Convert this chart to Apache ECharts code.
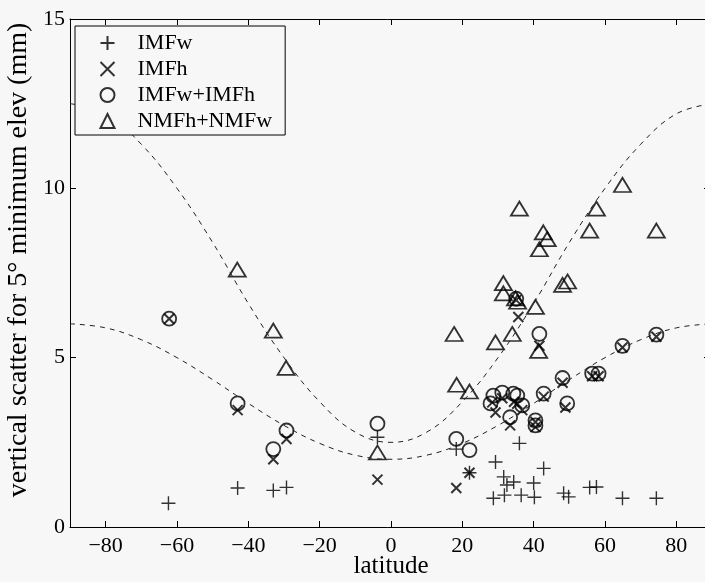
<!DOCTYPE html>
<html>
<head>
<meta charset="utf-8">
<script src="https://cdn.jsdelivr.net/npm/echarts@6/dist/echarts.min.js"></script>
<style>
  html, body { margin: 0; padding: 0; background: #f7f7f7; }
  #main { width: 705px; height: 582px; }
</style>
</head>
<body>
<div id="main"></div>
<script>
var xTicks = [-80, -60, -40, -20, 0, 20, 40, 60, 80];
var yTicks = [0, 5, 10, 15];

// [latitude, scatter (mm)]
var imfw = [[-62.4,0.7],[-43,1.15],[-33,1.08],[-29.3,1.17],[-3.8,2.65],[18.3,2.3],[22,1.6],
    [28.7,0.85],[29.3,1.92],[31.6,1.48],[31.8,0.94],[32.5,1.24],[34.4,1.33],[36,2.47],[36.5,0.94],
    [40,1.3],[40.2,0.88],[42.8,1.73],[48.4,1.0],[49.8,0.89],[55.7,1.17],[57.6,1.18],[64.9,0.85],[74.4,0.85]];
var imfh = [[-62.2,6.15],[-43,3.45],[-33,2.0],[-29.3,2.6],[-3.8,1.4],[18.3,1.15],[22,1.6],
    [28.4,3.68],[29.3,3.38],[31.2,3.8],[33.4,3.0],[34.5,3.7],[35.4,3.64],[35.7,6.2],[35.1,6.7],
    [36.8,3.45],[40.5,2.95],[40.5,3.1],[41.6,5.35],[42.8,3.85],[48.1,4.26],[48.9,3.53],
    [56.4,4.45],[58.2,4.45],[64.9,5.3],[74.4,5.62]];
var imfwh = [[-62.2,6.15],[-43,3.65],[-33,2.3],[-29.3,2.85],[-3.8,3.05],[18.3,2.6],[22,2.27],
    [27.9,3.65],[28.7,3.88],[31.2,3.97],[33.4,3.24],[34.3,3.94],[35.4,3.88],[35.1,6.74],[36.8,3.59],
    [40.5,3.15],[40.5,3.0],[41.6,5.7],[42.8,3.94],[48.1,4.4],[49.4,3.65],[56.4,4.53],[58.2,4.53],
    [64.9,5.35],[74.4,5.68]];
var nmf = [[-43.1,7.6],[-33,5.8],[-29.4,4.7],[-3.8,2.2],[17.7,5.7],[18.4,4.2],[22,4.0],[29.3,5.45],
    [31.5,7.2],[31.5,6.9],[34,5.7],[34.9,6.75],[35.5,6.65],[36,9.4],[40.5,6.5],[41.4,5.2],[41.6,8.2],
    [42.7,8.7],[43.8,8.5],[48.1,7.15],[49.5,7.25],[55.7,8.75],[57.6,9.4],[64.9,10.1],[74.4,8.75]];

// dashed reference curves, read every 10 degrees
var curveLat = [-90,-80,-70,-60,-50,-40,-30,-20,-10,0,10,20,30,40,50,60,70,80,90];
var upperCurve = [12.5,12.2,11.3,10.0,8.4,6.6,5.0,3.7,2.8,2.5,2.8,3.7,5.0,6.6,8.4,10.0,11.3,12.2,12.5];
var lowerCurve = [6.0,5.88,5.53,5.0,4.35,3.65,3.0,2.47,2.12,2.0,2.12,2.47,3.0,3.65,4.35,5.0,5.53,5.88,6.0];

function pairs(xs, ys) {
    return xs.map(function (x, i) { return [x, ys[i]]; });
}

var font = 'Liberation Serif';
var myChart = echarts.init(document.getElementById('main'));

var option = {
    backgroundColor: '#f7f7f7',
    animation: false,
    textStyle: { fontFamily: font, color: '#000' },
    grid: { left: 70, right: -7, top: 19, bottom: 55, outerBoundsMode: 'none', containLabel: false },
    legend: {
        data: ['IMFw', 'IMFh', 'IMFw+IMFh', 'NMFh+NMFw'],
        orient: 'vertical',
        left: 75,
        top: 26,
        padding: [6, 13, 3, 23],
        itemWidth: 14,
        itemHeight: 14,
        itemGap: 4,
        borderColor: '#000',
        borderWidth: 1,
        backgroundColor: '#f7f7f7',
        textStyle: { fontFamily: font, fontSize: 22, lineHeight: 22, color: '#000', padding: [0, 0, 0, 18] }
    },
    xAxis: [
        {
            type: 'value', min: -90, max: 90,
            name: 'latitude', nameLocation: 'middle', nameGap: 27, nameMoveOverlap: false,
            nameTextStyle: { fontFamily: font, fontSize: 25, color: '#000' },
            axisLine: { onZero: false, lineStyle: { color: '#000', width: 1 } },
            axisTick: { inside: true, length: 6, customValues: xTicks, lineStyle: { color: '#000' } },
            axisLabel: {
                customValues: xTicks, margin: 8, fontFamily: font, fontSize: 22, color: '#000',
                formatter: function (v) { return v < 0 ? '\u2212' + (-v) : String(v); }
            },
            splitLine: { show: false }
        },
        {
            type: 'value', min: -90, max: 90, position: 'top',
            axisLine: { onZero: false, lineStyle: { color: '#000', width: 1 } },
            axisTick: { inside: true, length: 6, customValues: xTicks, lineStyle: { color: '#000' } },
            axisLabel: { show: false },
            splitLine: { show: false }
        }
    ],
    yAxis: [
        {
            type: 'value', min: 0, max: 15, interval: 5,
            name: 'vertical scatter for 5\u00b0 minimum elev (mm)',
            nameLocation: 'middle', nameGap: 37, nameMoveOverlap: false,
            nameTextStyle: { fontFamily: font, fontSize: 28, color: '#000', padding: [0, 0, 0, 26] },
            axisLine: { show: true, onZero: false, lineStyle: { color: '#000', width: 1 } },
            axisTick: { show: true, inside: true, length: 6, lineStyle: { color: '#000' } },
            axisLabel: { margin: 5, fontFamily: font, fontSize: 22, color: '#000' },
            splitLine: { show: false }
        },
        {
            type: 'value', min: 0, max: 15, interval: 5, position: 'right',
            axisLine: { show: true, onZero: false, lineStyle: { color: '#000', width: 1 } },
            axisTick: { show: true, inside: true, length: 8, lineStyle: { color: '#000' } },
            axisLabel: { show: false },
            splitLine: { show: false }
        }
    ],
    series: [
        {
            name: 'upper', type: 'line', smooth: 0.4, symbol: 'none', silent: true,
            data: pairs(curveLat, upperCurve),
            lineStyle: { color: '#222', width: 1, type: [5, 5] }
        },
        {
            name: 'lower', type: 'line', smooth: 0.4, symbol: 'none', silent: true,
            data: pairs(curveLat, lowerCurve),
            lineStyle: { color: '#222', width: 1, type: [5, 5] }
        },
        {
            name: 'IMFw', type: 'scatter', data: imfw,
            symbol: 'path://M0,5L10,5M5,0L5,10', symbolSize: 14,
            itemStyle: { color: 'none', borderColor: '#000', borderWidth: 1.4 }
        },
        {
            name: 'IMFh', type: 'scatter', data: imfh,
            symbol: 'path://M0,0L10,10M10,0L0,10', symbolSize: 10,
            itemStyle: { color: 'none', borderColor: '#000', borderWidth: 2 }
        },
        {
            name: 'IMFw+IMFh', type: 'scatter', data: imfwh,
            symbol: 'circle', symbolSize: 14,
            itemStyle: { color: 'none', borderColor: '#000', borderWidth: 1.8 }
        },
        {
            name: 'NMFh+NMFw', type: 'scatter', data: nmf,
            symbol: 'triangle', symbolSize: [17, 14], symbolKeepAspect: true,
            itemStyle: { color: 'none', borderColor: '#000', borderWidth: 1.8 }
        }
    ]
};

myChart.setOption(option);
</script>
</body>
</html>
